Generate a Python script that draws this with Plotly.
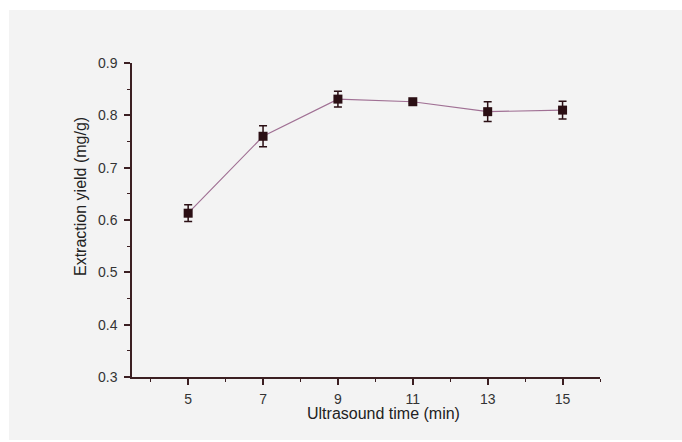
import plotly.graph_objects as go

time_min = [5, 7, 9, 11, 13, 15]
yield_mg_g = [0.613, 0.760, 0.831, 0.826, 0.807, 0.810]
yield_err = [0.016, 0.020, 0.015, 0.003, 0.019, 0.017]
x_ticks = [5, 7, 9, 11, 13, 15]
y_ticks = [0.3, 0.4, 0.5, 0.6, 0.7, 0.8, 0.9]

axis_col = "#3b1f22"
font_fam = "Liberation Sans, Arial, sans-serif"

fig = go.Figure()
fig.add_trace(go.Scatter(
    x=time_min, y=yield_mg_g, mode="lines+markers",
    line=dict(color="#a07094", width=1.2),
    marker=dict(symbol="square", size=9, color="#2b0f14"),
    error_y=dict(type="data", array=yield_err, visible=True,
                 color="#2b0f14", thickness=1.5, width=4),
    showlegend=False,
))

# page background panel
L, R, T, B = 132, 82, 63, 65
W, H = 682, 442
pw, ph = W - L - R, H - T - B
fig.add_shape(type="rect", xref="paper", yref="paper", layer="below",
              x0=(9 - L) / pw, x1=(W - L) / pw,
              y0=(H - T - H) / ph, y1=(H - T - 12) / ph,
              fillcolor="#f3f3f3", line=dict(width=0))

fig.update_layout(
    width=W, height=H,
    margin=dict(l=L, r=R, t=T, b=B),
    paper_bgcolor="white", plot_bgcolor="rgba(0,0,0,0)",
    font=dict(family=font_fam, size=14, color="#333333"),
    xaxis=dict(range=[3.5, 16], tickvals=x_ticks, showgrid=False, zeroline=False,
               showline=True, linecolor=axis_col, linewidth=1.5,
               ticks="outside", ticklen=6, tickwidth=1.5, tickcolor=axis_col,
               ticklabelstandoff=2,
               minor=dict(ticks="outside", ticklen=3, tickwidth=1.2, tickcolor=axis_col, dtick=1, tick0=0),
               tickfont=dict(size=14, color="#333333")),
    yaxis=dict(range=[0.3, 0.9], tickvals=y_ticks, tickformat=".1f", showgrid=False, zeroline=False,
               showline=True, linecolor=axis_col, linewidth=1.5,
               ticks="outside", ticklen=6, tickwidth=1.5, tickcolor=axis_col,
               ticklabelstandoff=4,
               minor=dict(ticks="outside", ticklen=3, tickwidth=1.2, tickcolor=axis_col, dtick=0.05, tick0=0.3),
               tickfont=dict(size=14, color="#333333")),
    annotations=[
        dict(text="Ultrasound time (min)", xref="paper", yref="paper",
             x=(383 - L) / pw, y=(H - B - 413) / ph, showarrow=False,
             xanchor="center", yanchor="middle", font=dict(size=16, color="#222222")),
        dict(text="Extraction yield (mg/g)", xref="paper", yref="paper",
             x=(80 - L) / pw, y=(H - B - 197) / ph, showarrow=False, textangle=-90,
             xanchor="center", yanchor="middle", font=dict(size=16, color="#222222")),
    ],
)

fig.write_html("out.html")
